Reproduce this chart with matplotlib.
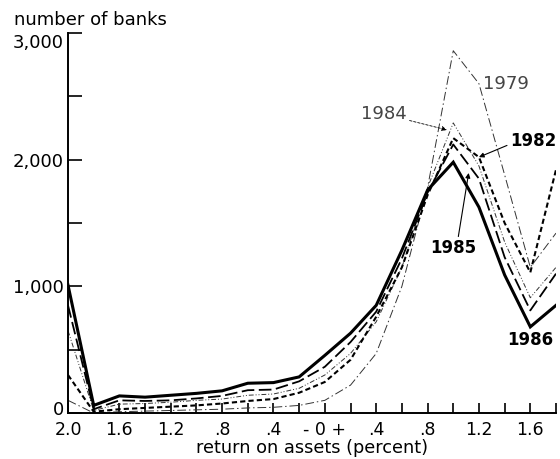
import matplotlib
matplotlib.use("Agg")
import matplotlib.pyplot as plt
import matplotlib.transforms as mtransforms
from matplotlib.ticker import FixedLocator, MultipleLocator

plt.rcParams['font.family'] = ['DejaVu Sans']

# return on assets bins (percent)
roa = [-2.0, -1.8, -1.6, -1.4, -1.2, -1.0, -0.8, -0.6, -0.4, -0.2,
       0.0, 0.2, 0.4, 0.6, 0.8, 1.0, 1.2, 1.4, 1.6, 1.8]

banks_1986 = [1010, 60, 135, 125, 140, 155, 175, 235, 240, 285,
              455, 630, 850, 1285, 1760, 1980, 1625, 1090, 680, 850]
banks_1985 = [850, 30, 100, 95, 100, 115, 135, 180, 185, 250,
              365, 560, 800, 1220, 1740, 2120, 1850, 1230, 810, 1100]
banks_1984 = [650, 20, 70, 75, 85, 100, 110, 140, 150, 195,
              300, 470, 720, 1150, 1780, 2290, 1950, 1350, 910, 1150]
banks_1982 = [300, 10, 30, 40, 50, 60, 75, 95, 110, 160,
              245, 420, 760, 1150, 1720, 2170, 2020, 1500, 1110, 1920]
banks_1979 = [100, 0, 10, 15, 20, 25, 30, 40, 45, 60,
              100, 220, 470, 1000, 1780, 2860, 2600, 1880, 1150, 1420]

xtick_pos = roa
xtick_labels = ["2.0", "", "1.6", "", "1.2", "", ".8", "", ".4", "",
                "- 0 +", "", ".4", "", ".8", "", "1.2", "", "1.6", ""]
ytick_major = [0, 1000, 2000, 3000]
ytick_labels = ["0", "1,000", "2,000", "3,000"]

fig = plt.figure(figsize=(5.6, 4.59), dpi=100)
ax = fig.add_axes([68/560, 46/459, (556-68)/560, (413-33)/459])

ax.plot(roa, banks_1979, color='#333333', lw=0.7, dashes=(9, 3, 1.5, 3))
ax.plot(roa, banks_1984, color='#333333', lw=0.7, dashes=(5, 2, 1, 2, 1, 2))
ax.plot(roa, banks_1982, color='black', lw=1.5, dashes=(2.5, 1.5))
ax.plot(roa, banks_1985, color='black', lw=1.3, dashes=(7, 2.5))
ax.plot(roa, banks_1986, color='black', lw=2.2, solid_joinstyle='miter')

ax.set_xlim(-2.0, 1.8)
ax.set_ylim(0, 3000)

for s in ['top', 'right']:
    ax.spines[s].set_visible(False)
ax.spines['left'].set_linewidth(1.4)
ax.spines['bottom'].set_linewidth(1.4)

ax.xaxis.set_major_locator(FixedLocator(xtick_pos))
ax.set_xticklabels(xtick_labels)
ax.yaxis.set_major_locator(FixedLocator(ytick_major))
ax.set_yticklabels(ytick_labels)
ax.yaxis.set_minor_locator(MultipleLocator(500))
ax.tick_params(axis='both', which='both', direction='in',
               width=1.2, color='black')
ax.tick_params(axis='x', length=7, pad=6, labelsize=12.5)
ax.tick_params(axis='y', which='both', length=10, pad=3, labelsize=13)

# nudge the end labels of the y axis as in the original
ylbls = ax.get_yticklabels()
ylbls[0].set_transform(ylbls[0].get_transform() +
                       mtransforms.ScaledTranslation(0, 5/100, fig.dpi_scale_trans))
ylbls[-1].set_transform(ylbls[-1].get_transform() +
                        mtransforms.ScaledTranslation(0, -8/100, fig.dpi_scale_trans))

ax.set_xlabel("return on assets (percent)", fontsize=12.8, labelpad=0)
fig.text(14/560, 1 - 20/459, "number of banks", fontsize=13,
         ha='left', va='center')

arrow = dict(arrowstyle='-|>', color='black', lw=0.8, mutation_scale=7,
             shrinkA=0, shrinkB=0)
ax.text(1.232, 2600, "1979", fontsize=13, color='#444444', ha='left', va='center')
ax.annotate("1984", xy=(0.95, 2235), xytext=(0.46, 2360), fontsize=13,
            color='#444444', ha='center', va='center',
            arrowprops=dict(arrow, linestyle=(0, (3, 2)), lw=0.6))
ax.annotate("1982", xy=(1.2, 2020), xytext=(1.62, 2150), fontsize=12,
            fontweight='bold', ha='center', va='center',
            arrowprops=dict(arrow, relpos=(0, 0.3)))
ax.annotate("1985", xy=(1.12, 1895), xytext=(1.0, 1300), fontsize=12,
            fontweight='bold', ha='center', va='center',
            arrowprops=dict(arrow, relpos=(0.6, 1.0)))
ax.text(1.6, 575, "1986", fontsize=12, fontweight='bold', ha='center', va='center')

fig.savefig("out.png", dpi=100)
